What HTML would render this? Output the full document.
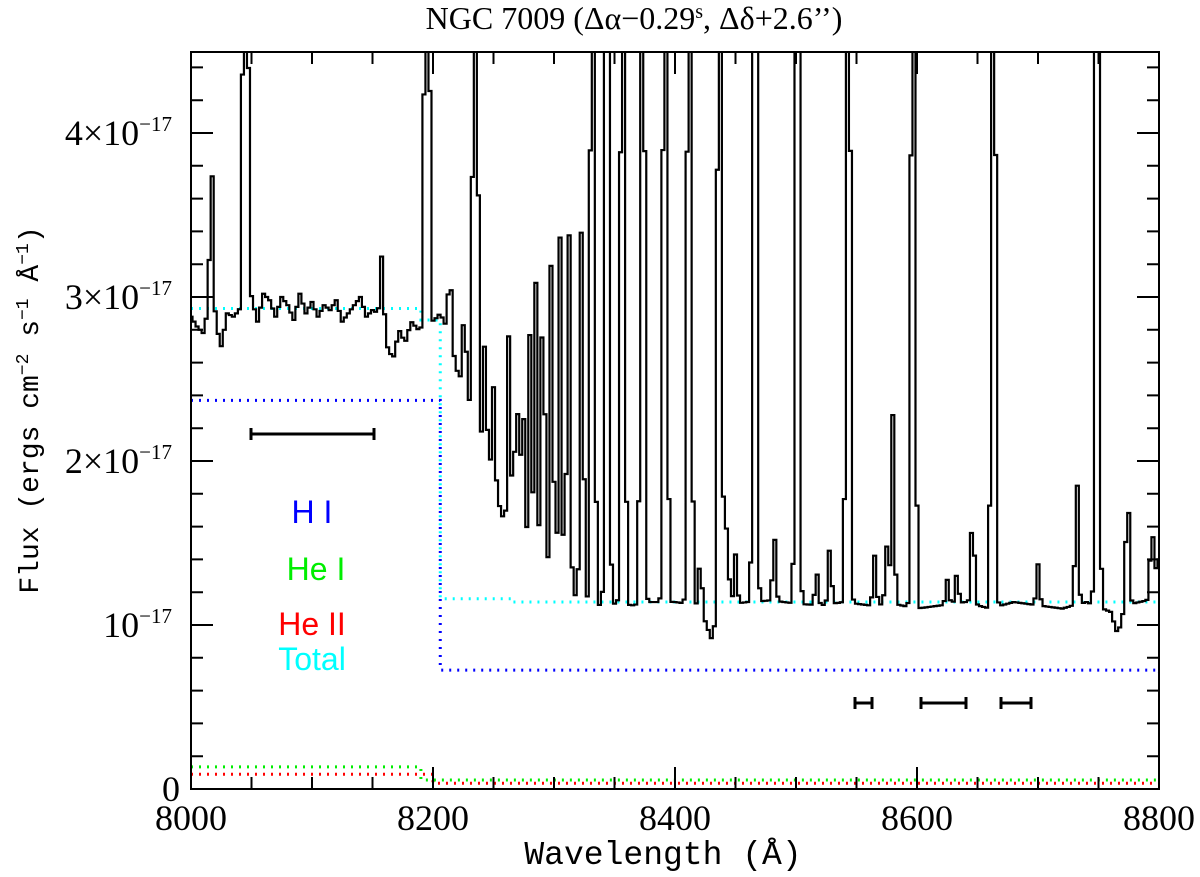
<!DOCTYPE html>
<html><head><meta charset="utf-8"><style>
body{margin:0;background:#fff;}
svg{display:block;}
.tk{font-family:"Liberation Serif",serif;font-size:36px;fill:#000;}
.lg{font-family:"Liberation Sans",sans-serif;font-size:32px;}
</style></head><body>
<svg id="chart" width="1200" height="877" viewBox="0 0 1200 877" xmlns="http://www.w3.org/2000/svg">
<defs><clipPath id="pc"><rect x="191" y="52" width="968" height="737"/></clipPath></defs>
<text x="634" y="29" text-anchor="middle" font-family="Liberation Serif, serif" font-size="32">NGC 7009 (Δα−0.29<tspan font-size="20" dy="-11">s</tspan><tspan dy="11">, Δδ+2.6’’)</tspan></text>
<g id="models" clip-path="url(#pc)"></g>
<g id="spec" clip-path="url(#pc)"></g>
<rect x="191" y="52" width="968" height="737" fill="none" stroke="#000" stroke-width="2"/>
<g id="ticks"></g>
<g stroke="#000" stroke-width="3">
<path d="M251 434H374M251 428V440M374 428V440"/>
<path d="M855 703H872M855 697V709M872 697V709"/>
<path d="M921 703H966M921 697V709M966 697V709"/>
<path d="M1001 703H1031M1001 697V709M1031 697V709"/>
</g>
<g text-anchor="middle">
<text class="lg" x="312" y="523" fill="#0000ff">H  I</text>
<text class="lg" x="316" y="580" fill="#00ee00">He  I</text>
<text class="lg" x="312" y="635" fill="#ff0000">He  II</text>
<text class="lg" x="312" y="670" fill="#00ffff">Total</text>
</g>
<text x="663" y="864" text-anchor="middle" font-family="Liberation Mono, monospace" font-size="33">Wavelength (Å)</text>
<text transform="translate(38,410) rotate(-90)" text-anchor="middle" font-family="Liberation Mono, monospace" font-size="28">Flux (ergs cm<tspan font-size="18" dy="-10">−2</tspan><tspan dy="10"> s</tspan><tspan font-size="18" dy="-10">−1</tspan><tspan dy="10"> Å</tspan><tspan font-size="18" dy="-10">−1</tspan><tspan dy="10">)</tspan></text>
</svg>
<script>
const xTicks=[8000,8200,8400,8600,8800];
const yTicks=[0,1,2,3,4];
const yTickLabels=["0","10","2×10","3×10","4×10"];
// continuum nodes (units 1e-17)
const contWave=[8000,8005,8010,8015,8020,8025,8030,8035,8040,8050,8055,8060,8065,8070,8075,8080,8085,8090,8095,8100,8105,8110,8115,8120,8125,8130,8135,8140,8145,8150,8155,8162,8167,8172,8177,8182,8188,8200,8206,8212,8220,8228,8236,8244,8252,8258,8264,8270,8276,8282,8288,8295,8302,8310,8318,8326,8336,8350,8365,8380,8400,8420,8430,8440,8460,8480,8500,8520,8540,8560,8580,8600,8620,8640,8660,8680,8700,8720,8740,8760,8766,8772,8790,8800];
const contFlux=[2.88,2.82,2.78,2.95,2.85,2.7,2.9,2.88,2.92,3.0,2.85,3.02,2.98,2.88,3.0,2.95,2.86,3.02,2.9,2.97,2.88,2.95,2.92,2.98,2.85,2.9,2.95,3.0,2.88,2.92,2.9,2.7,2.62,2.8,2.72,2.85,2.8,2.85,2.9,2.8,2.55,2.4,2.25,2.0,1.8,1.65,1.52,1.42,1.35,1.3,1.27,1.25,1.22,1.2,1.18,1.15,1.12,1.13,1.12,1.14,1.14,1.12,0.92,1.12,1.14,1.15,1.13,1.12,1.14,1.12,1.13,1.1,1.12,1.14,1.1,1.14,1.12,1.1,1.14,1.08,0.94,1.12,1.15,1.4];
// emission lines
const lineWave=[8017,8045,8158,8195,8214,8226,8235,8243,8250,8263,8269,8274,8280,8285,8291,8298,8305,8312,8323,8332,8344,8357,8373,8392,8412,8421,8437,8443,8450,8466,8482,8501,8517,8528,8543,8565,8575,8580,8597,8625,8633,8646,8663,8700,8732,8749,8774,8794];
const linePeak=[0.9,9,0.45,9,0.45,0.5,9,0.7,0.6,1.3,1.15,1.2,1.45,1.8,2.0,2.1,2.15,2.35,2.4,9,9,9,9,9,9,0.3,9,0.5,0.3,9,0.4,9,0.2,0.35,9,0.3,0.35,1.15,9,0.15,0.18,0.58,9,0.25,0.78,9,0.75,0.35];
// model curves (units 1e-17): step nodes
const totWave=[8000,8190,8206,8265,8800];
const totVal=[2.93,2.86,1.16,1.14,1.13];
const hiWave=[8000,8206,8800];
const hiVal=[2.37,0.725,0.71];
const heiWave=[8000,8190,8800];
const heiVal=[0.135,0.055,0.05];
const heiiWave=[8000,8200,8800];
const heiiVal=[0.09,0.035,0.035];

const X=w=>191+(w-8000)*968/800;
const Y=v=>789-v*164;
const NS='http://www.w3.org/2000/svg';
function mk(tag,attrs,parent){const e=document.createElementNS(NS,tag);for(const k in attrs)e.setAttribute(k,attrs[k]);parent.appendChild(e);return e;}
function cont(w){for(let i=0;i<contWave.length-1;i++){if(w<=contWave[i+1]){const t=(w-contWave[i])/(contWave[i+1]-contWave[i]);return contFlux[i]+t*(contFlux[i+1]-contFlux[i]);}}return contFlux[contFlux.length-1];}
const ticks=document.getElementById('ticks');
for(let w=8000;w<=8800;w+=50){const maj=w%200===0;const L=maj?22:12;
 const t=mk('path',{d:`M${X(w)} 789V${789-L}M${X(w)} 52V${52+L}`,stroke:'#000','stroke-width':2},ticks);
 
 }
xTicks.forEach(w=>{const t=mk('text',{x:X(w),y:830,'text-anchor':'middle',class:'tk'},ticks);t.textContent=w;
 
 });
for(let v=0;v<=4.5;v+=0.2){const maj=Math.abs(v-Math.round(v))<0.01;const L=maj?22:12;
 const t=mk('path',{d:`M191 ${Y(v)}H${191+L}M1159 ${Y(v)}H${1159-L}`,stroke:'#000','stroke-width':2},ticks);
 
 }
yTicks.forEach((v,i)=>{const t=mk('text',{x:v===0?180:172,y:Y(v)+12,'text-anchor':'end',class:'tk'},ticks);
 
 
 t.textContent=yTickLabels[i];
 if(v>0){const s=mk('tspan',{'font-size':21,dy:-14},t);s.textContent='−17';}
});
const models=document.getElementById('models');
function stepLine(ws,vs,color,name){let d=`M${X(ws[0])} ${Y(vs[0])}`;for(let i=1;i<ws.length;i++){d+=`H${X(ws[i])}V${Y(vs[i])}`;}
 const p=mk('path',{d:d,fill:'none',stroke:color,'stroke-width':3,'stroke-dasharray':'2 6'},models);
 
 }
stepLine(heiiWave,heiiVal,'#ff0000','he-ii-model');
stepLine(heiWave,heiVal,'#00ee00','he-i-model');
stepLine(hiWave,hiVal,'#0000ff','h-i-model');
stepLine(totWave,totVal,'#00ffff','total-model');
const sig=1.3,bin=2.5;let d='';
for(let i=0;i<=320;i++){const w=8000+i*bin;let f=cont(w);
 lineWave.forEach((lw,j)=>{const a=linePeak[j];f+=a*Math.exp(-0.5*((w-lw)/sig)**2);});
 const y=Math.max(20,Y(f));const x0=X(w-bin/2),x1=X(w+bin/2);
 d+=(i===0?`M${x0} ${y}`:`V${y}`)+`H${x1}`;}
const sp=mk('path',{d:d,fill:'none',stroke:'#000','stroke-width':2.2},document.getElementById('spec'));


</script>
</body></html>
